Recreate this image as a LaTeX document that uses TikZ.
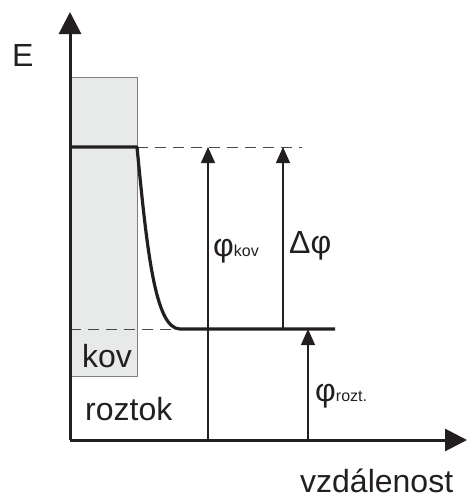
\documentclass[tikz,border=0pt]{standalone}
\usepackage{fontspec}
\setmainfont{Liberation Sans}
\usetikzlibrary{arrows.meta}
\definecolor{ink}{HTML}{231F20}
\definecolor{boxfill}{HTML}{E8EAEA}
\definecolor{boxline}{HTML}{808080}
\definecolor{dashc}{HTML}{4A4A4A}
\newcommand{\subfnt}{\fontsize{16}{16}\selectfont}
\tikzset{
  axis/.style={line width=3pt, draw=ink, -{Triangle[length=22pt,width=22pt]}},
  level/.style={line width=3.2pt, draw=ink},
  guide/.style={line width=1pt, draw=dashc, dash pattern=on 11pt off 7pt},
  meas/.style={line width=1.3pt, draw=ink, -{Triangle[length=16pt,width=14pt]}},
  lbl/.style={inner sep=0pt, anchor=base west, text=ink, font=\fontsize{32}{32}\selectfont}
}
\begin{document}
\begin{tikzpicture}[x=1pt,y=-1pt]
\useasboundingbox (0,0) rectangle (467,501);
% metal box
\filldraw[fill=boxfill, draw=boxline, line width=1pt] (70,77) rectangle (137,376);
% coordinates
\coordinate (O) at (70,440);
\coordinate (ytip) at (70,12);
\coordinate (xtip) at (467,440);
\coordinate (mL) at (70,147);
\coordinate (mR) at (137,147);
\coordinate (sK) at (180,329);
\coordinate (sR) at (335,329);
\coordinate (dTop) at (302,147);
\coordinate (dL) at (70,329);
\coordinate (a1b) at (208,440);
\coordinate (a1t) at (208,147);
\coordinate (a2b) at (283,329);
\coordinate (a2t) at (283,147);
\coordinate (a3b) at (308,440);
\coordinate (a3t) at (308,329);
% dashed guides
\draw[guide] (mR) -- (dTop);
\draw[guide] (dL) -- (sK);
% energy level
\draw[level, line join=round] (mL) -- (mR) .. controls (147,250) and (155,329) .. (sK) -- (sR);
% measurement arrows
\draw[meas] (a1b) -- (a1t);
\draw[meas] (a2b) -- (a2t);
\draw[meas] (a3b) -- (a3t);
% axes
\draw[axis] (O) -- (ytip);
\draw[axis] (O) -- (xtip);
% labels
\node[lbl] (E) at (12,66) {E};
\node[lbl] (kov) at (82,367) {kov};
\node[lbl] (roz) at (85,420) {roztok};
\node[lbl] (vzd) at (300,492) {vzdálenost};
\node[lbl] (pk) at (213,256) {φ{\subfnt kov}};
\node[lbl] (dp) at (289,253) {Δφ};
\node[lbl] (pr) at (315,401) {φ{\subfnt rozt.}};
\end{tikzpicture}
\end{document}
